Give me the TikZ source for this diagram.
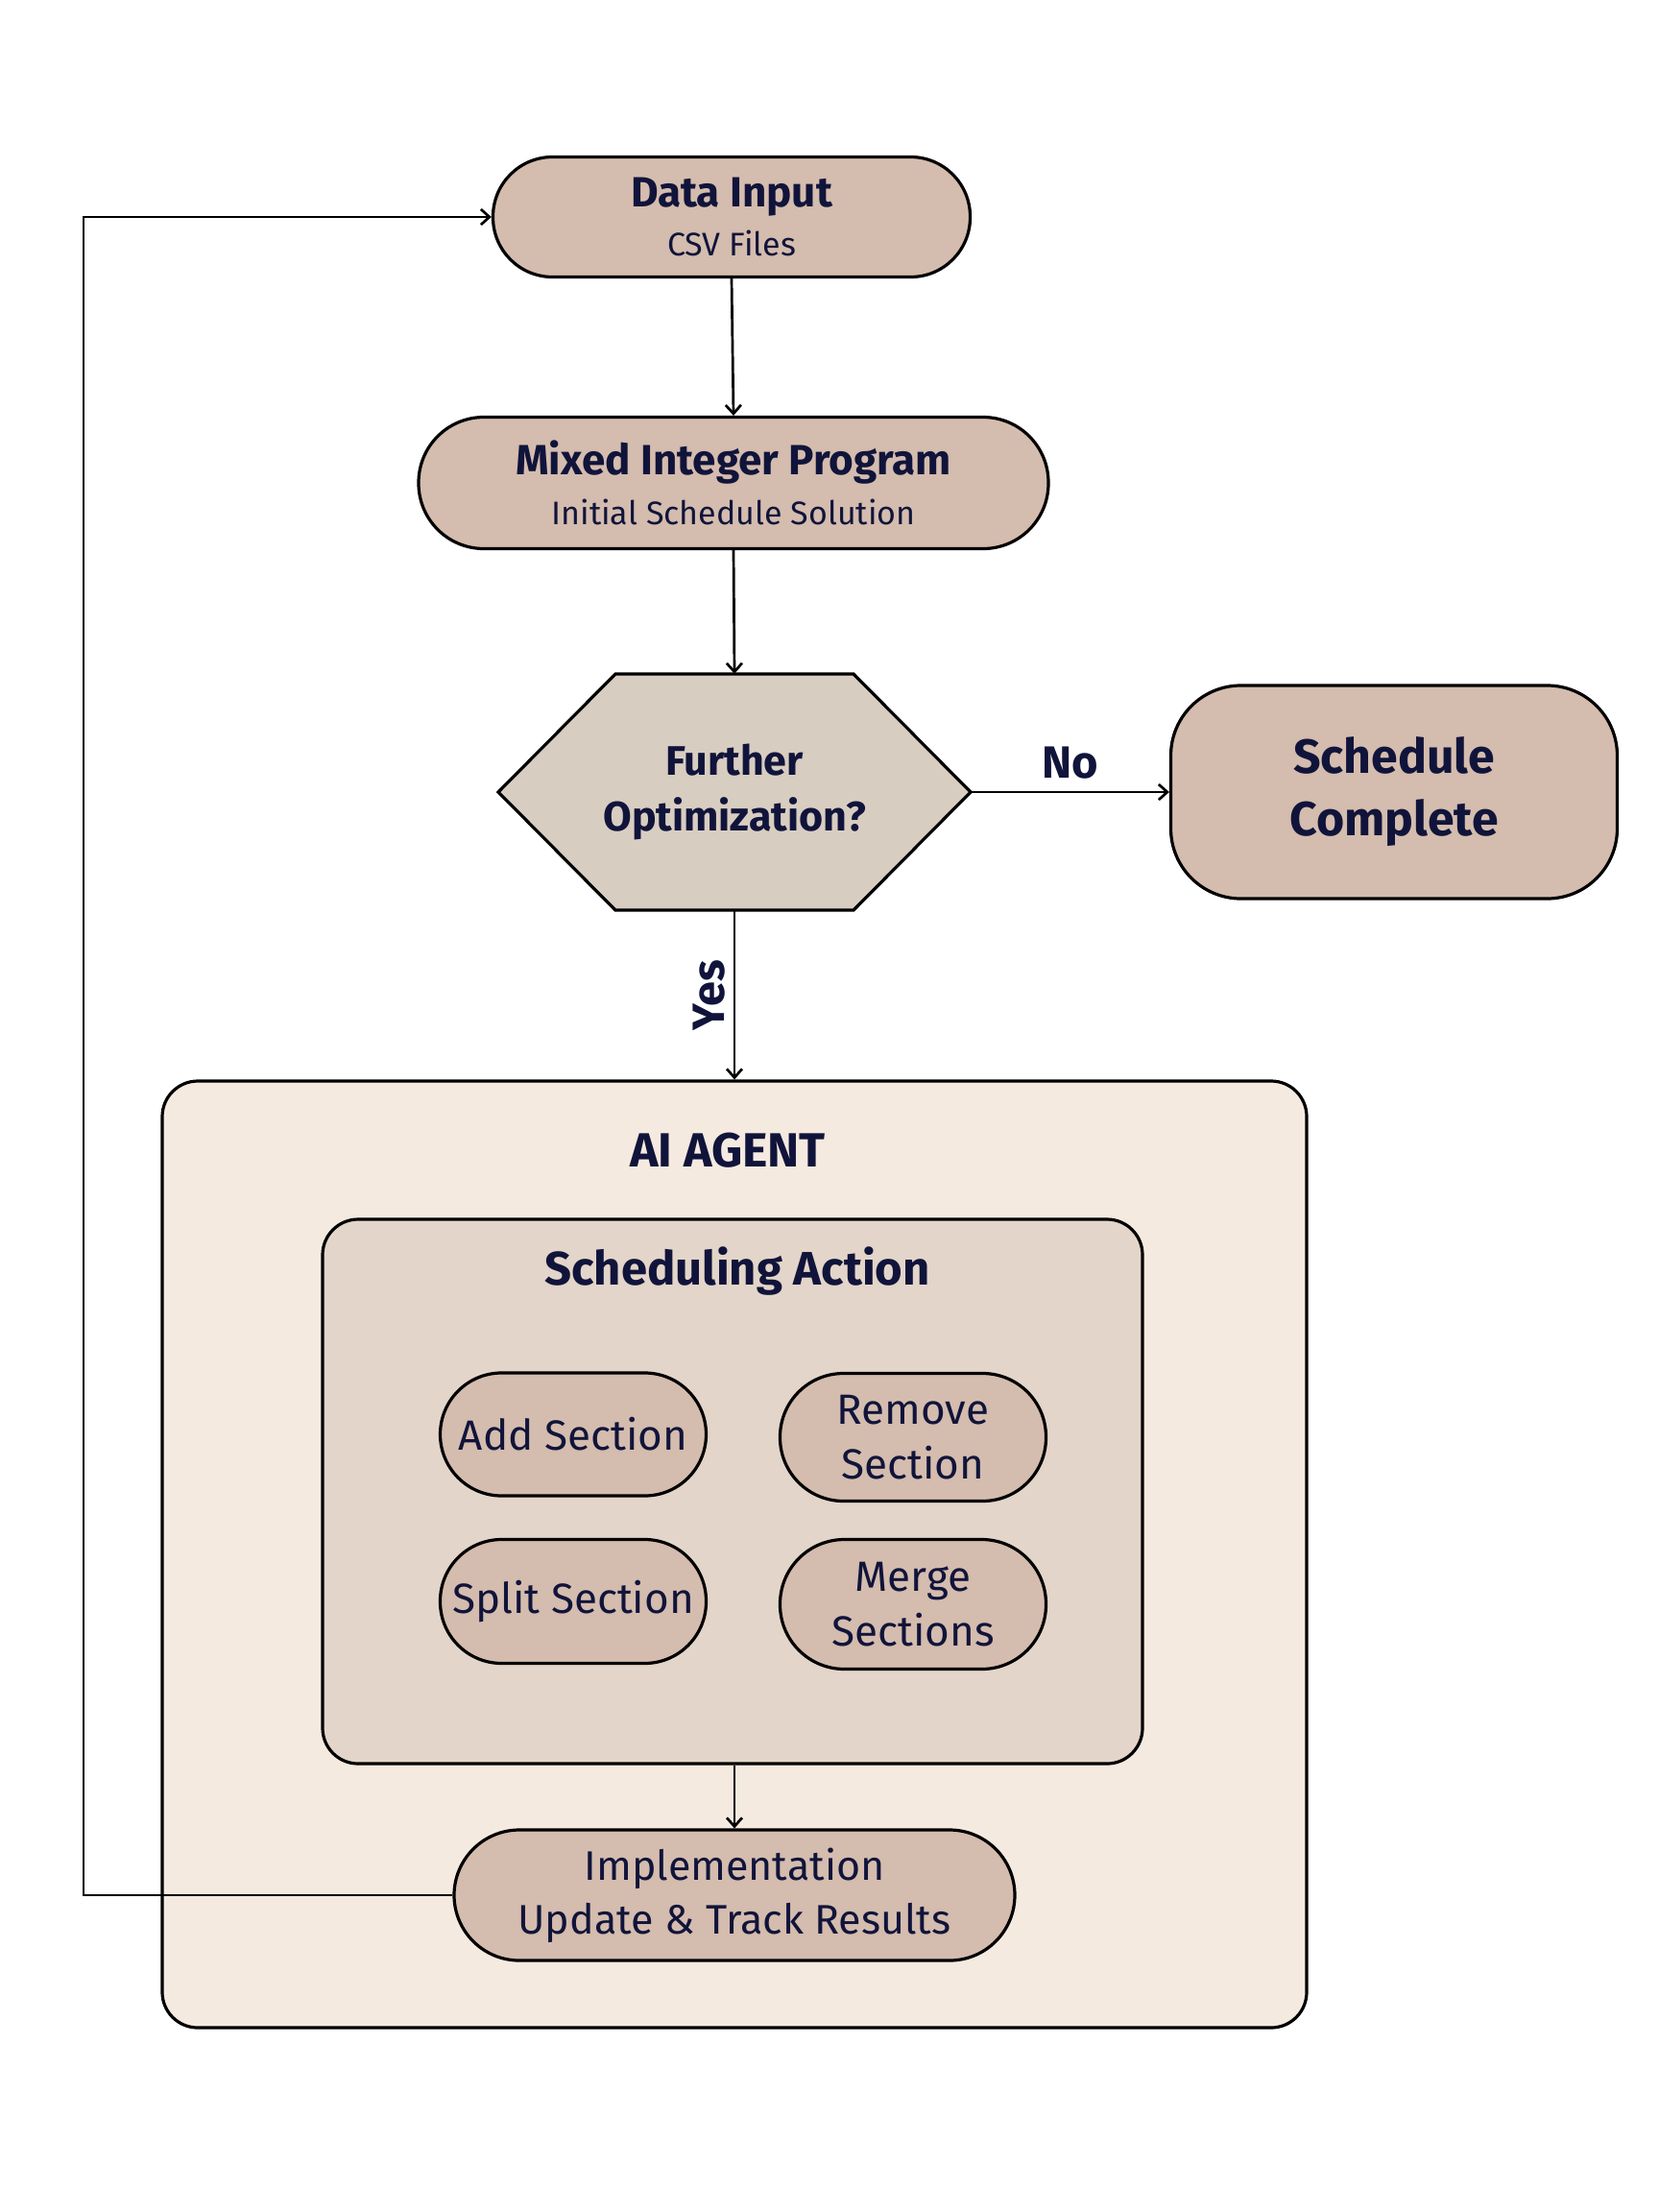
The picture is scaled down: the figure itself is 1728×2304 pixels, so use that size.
\documentclass[tikz,border=0pt]{standalone}
\usepackage{fontspec}
\setmainfont{Fira Sans}
\usetikzlibrary{arrows.meta}
\definecolor{txt}{HTML}{11143A}
\definecolor{pill}{HTML}{D4BCAE}
\definecolor{hexc}{HTML}{D8CDC1}
\definecolor{outerc}{HTML}{F5EAE0}
\definecolor{innerc}{HTML}{E3D5C9}
\begin{document}
\begin{tikzpicture}[x=1pt,y=-1pt,
  pillbox/.style={draw=black, line width=3.2pt, fill=pill, text=txt, align=center, inner sep=0pt},
  conn/.style={line width=2.7pt, -{Straight Barb[length=9pt,width=16pt,line width=2.7pt]}},
  lbl/.style={text=txt, inner sep=0pt},
]
\useasboundingbox[fill=white] (0,0) rectangle (1728,2304);

% nodes
\node[pillbox, minimum width=497pt, minimum height=125pt, rounded corners=62pt,
      font=\fontsize{34}{51}\selectfont] (data) at (762,226)
  {{\fontsize{44}{50}\selectfont\bfseries Data Input}\\CSV Files};
\node[pillbox, minimum width=656pt, minimum height=137pt, rounded corners=68pt,
      font=\fontsize{34}{52}\selectfont] (mip) at (764,503)
  {{\fontsize{44}{50}\selectfont\bfseries Mixed Integer Program}\\Initial Schedule Solution};

% hexagon
\draw[line width=3.2pt, fill=hexc, line join=miter] (519,825) -- (641,702) -- (889,702) -- (1011,825) -- (889,948) -- (641,948) -- cycle;
\node[lbl, minimum width=492pt, minimum height=246pt, align=center,
      font=\fontsize{43}{58}\selectfont\bfseries] (hex) at (765,825) {\raisebox{-3pt}{Further}\\\raisebox{-3pt}{Optimization?}};

\node[pillbox, minimum width=465pt, minimum height=222pt, rounded corners=73pt,
      font=\fontsize{50}{65}\selectfont\bfseries] (done) at (1452,825) {Schedule\\Complete};

% AI agent container
\node[draw=black, line width=3.2pt, fill=outerc, rounded corners=37pt,
      minimum width=1192pt, minimum height=986pt, inner sep=0pt] (agent) at (765,1619) {};
\node[lbl, font=\fontsize{50}{56}\selectfont\bfseries] (agentlbl) at (758,1198) {AI AGENT};

\node[draw=black, line width=3.2pt, fill=innerc, rounded corners=37pt,
      minimum width=854pt, minimum height=567pt, inner sep=0pt] (action) at (763,1553.5) {};
\node[lbl, font=\fontsize{49}{56}\selectfont\bfseries] (actionlbl) at (768,1324) {Scheduling Action};

\node[pillbox, minimum width=277pt, minimum height=128pt, rounded corners=64pt,
      font=\fontsize{44}{57}\selectfont] (add) at (597,1494) {Add Section};
\node[pillbox, minimum width=277pt, minimum height=133pt, rounded corners=66pt,
      font=\fontsize{44}{57}\selectfont] (remove) at (951,1497) {Remove\\Section};
\node[pillbox, minimum width=277pt, minimum height=129pt, rounded corners=64pt,
      font=\fontsize{44}{57}\selectfont] (split) at (597,1668) {Split Section};
\node[pillbox, minimum width=277pt, minimum height=135pt, rounded corners=67pt,
      font=\fontsize{44}{57}\selectfont] (merge) at (951,1671) {Merge\\Sections};

\node[pillbox, minimum width=584pt, minimum height=136pt, rounded corners=68pt,
      font=\fontsize{43}{56}\selectfont] (impl) at (765,1974) {Implementation\\Update \& Track Results};

% connectors
\draw[conn] (data.south) -- (mip.north);
\draw[conn] (mip.south) -- (hex.north);
\draw[conn] (hex.east) -- node[lbl, above=12pt, font=\fontsize{47}{52}\selectfont\bfseries] (nolbl) {No} (done.west);
\draw[conn] (hex.south) -- node[lbl, rotate=90, above=8pt, font=\fontsize{47}{52}\selectfont\bfseries] (yeslbl) {Yes} (agent.north -| hex.south);
\draw[conn] (action.south -| impl.north) -- (impl.north);
\coordinate (c1) at (87,1974);
\coordinate (c2) at (87,226);
\draw[conn] (impl.west) -- (c1) -- (c2) -- (data.west);
\end{tikzpicture}
\end{document}
